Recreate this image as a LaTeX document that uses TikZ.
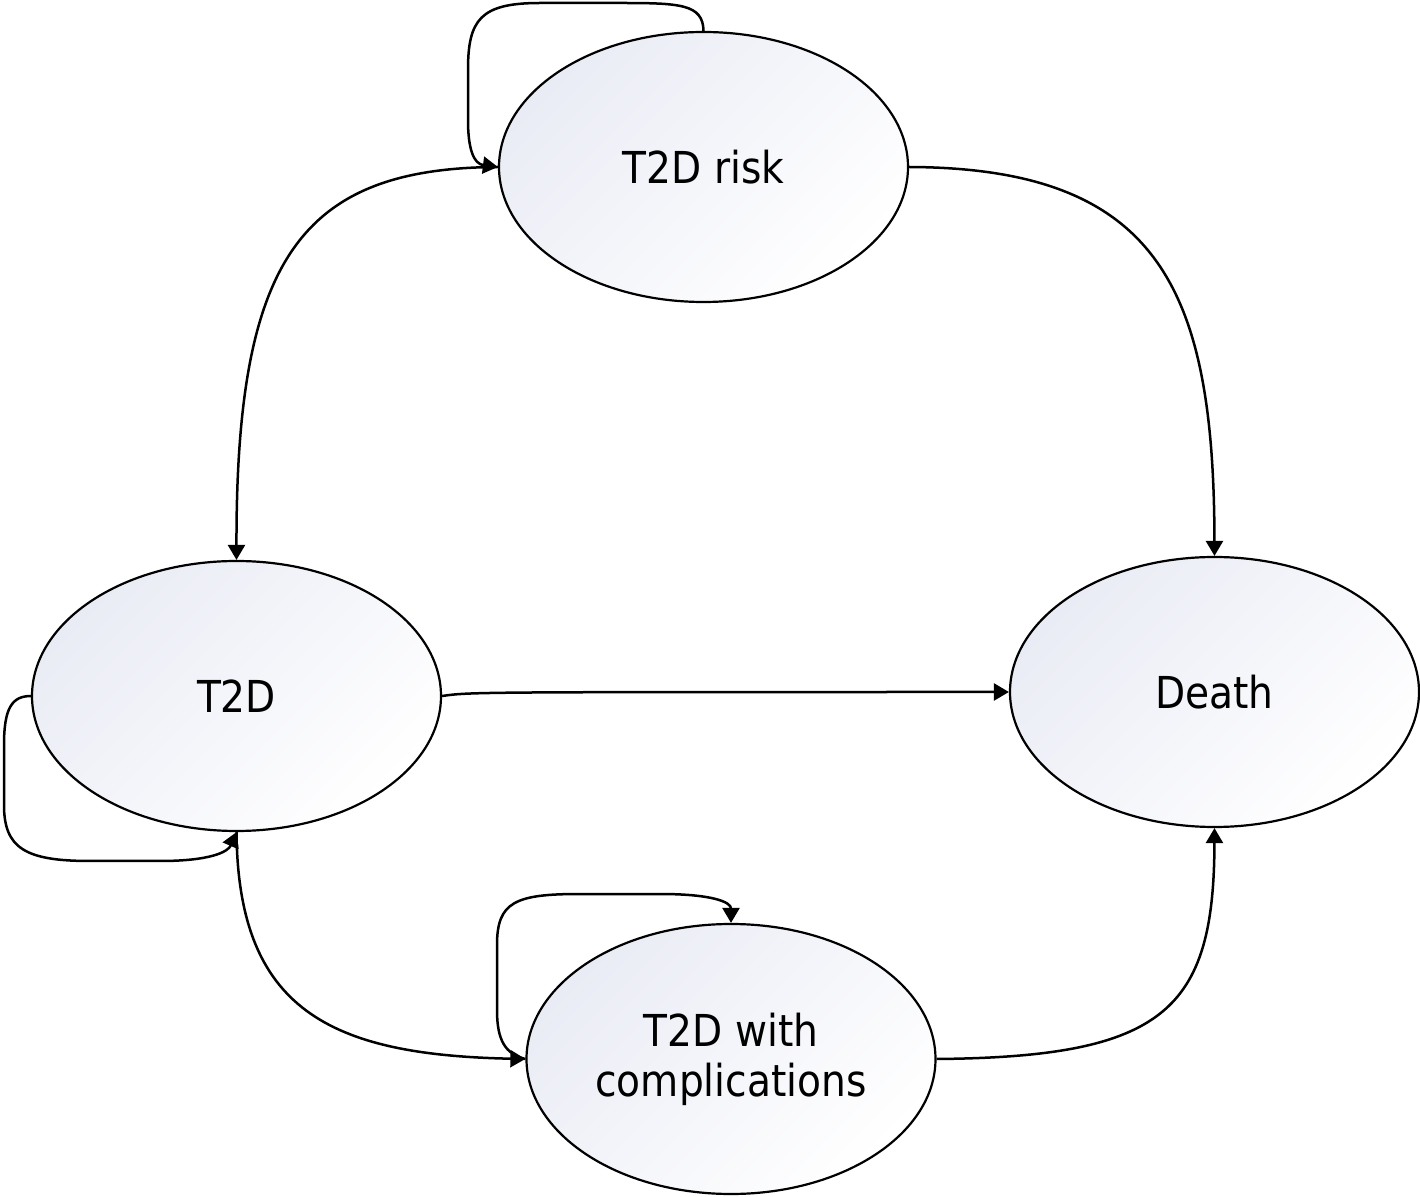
\documentclass[tikz,border=0pt]{standalone}
\usepackage{fontspec}
\newfontfamily\lblfont{DejaVu Sans}[FakeStretch=0.89]
\usetikzlibrary{shapes.geometric,arrows.meta}
\definecolor{shadec}{RGB}{234,236,245}
\tikzset{
  state/.style={ellipse, draw=black, line width=1.1pt, minimum width=204.5pt, minimum height=135pt,
    inner sep=0pt, align=center, font=\lblfont\fontsize{22}{25}\selectfont,
    shading=axis, top color=shadec, bottom color=white, shading angle=45},
  conn/.style={line width=1.25pt, -{Triangle[length=7.5pt,width=8.5pt]}}
}
\begin{document}
\begin{tikzpicture}[x=0.5pt,y=-0.5pt]
\useasboundingbox (0,0) rectangle (1420,1197);
\node[state] (risk) at (703.5,167) {T2D risk};
\node[state] (t2d) at (236.5,696) {T2D};
\node[state] (death) at (1214.5,692) {Death};
\node[state] (comp) at (731,1059) {T2D with\\complications};

% self loop on T2D risk
\draw[conn] (risk.north) .. controls (703,4) and (680,3) .. (620,3) -- (540,3)
  .. controls (480,3) and (468,20) .. (468,70) -- (468,120)
  .. controls (468,150) and (474,164) .. (risk.west);
% T2D risk -> T2D
\draw[conn] (risk.west) .. controls (300,168) and (236,260) .. (t2d.north);
% T2D risk -> Death
\draw[conn] (risk.east) .. controls (1160,168) and (1214,290) .. (death.north);
% T2D -> Death
\draw[conn] (t2d.east) .. controls (470,692) .. (death.west);
% self loop on T2D
\draw[conn] (t2d.west) .. controls (12,696) and (4,708) .. (4,745) -- (4,805)
  .. controls (4,848) and (25,861) .. (90,861) -- (160,861)
  .. controls (210,861) and (228,852) .. (t2d.south);
% T2D -> complications
\draw[conn] (t2d.south) .. controls (238,1010) and (330,1055) .. (comp.west);
% self loop on complications
\draw[conn] (comp.west) .. controls (505,1054) and (497,1040) .. (497,1010) -- (497,945)
  .. controls (497,902) and (515,894) .. (580,894) -- (660,894)
  .. controls (712,894) and (731,902) .. (comp.north);
% complications -> Death
\draw[conn] (comp.east) .. controls (1165,1057) and (1214,1010) .. (death.south);
\end{tikzpicture}
\end{document}
